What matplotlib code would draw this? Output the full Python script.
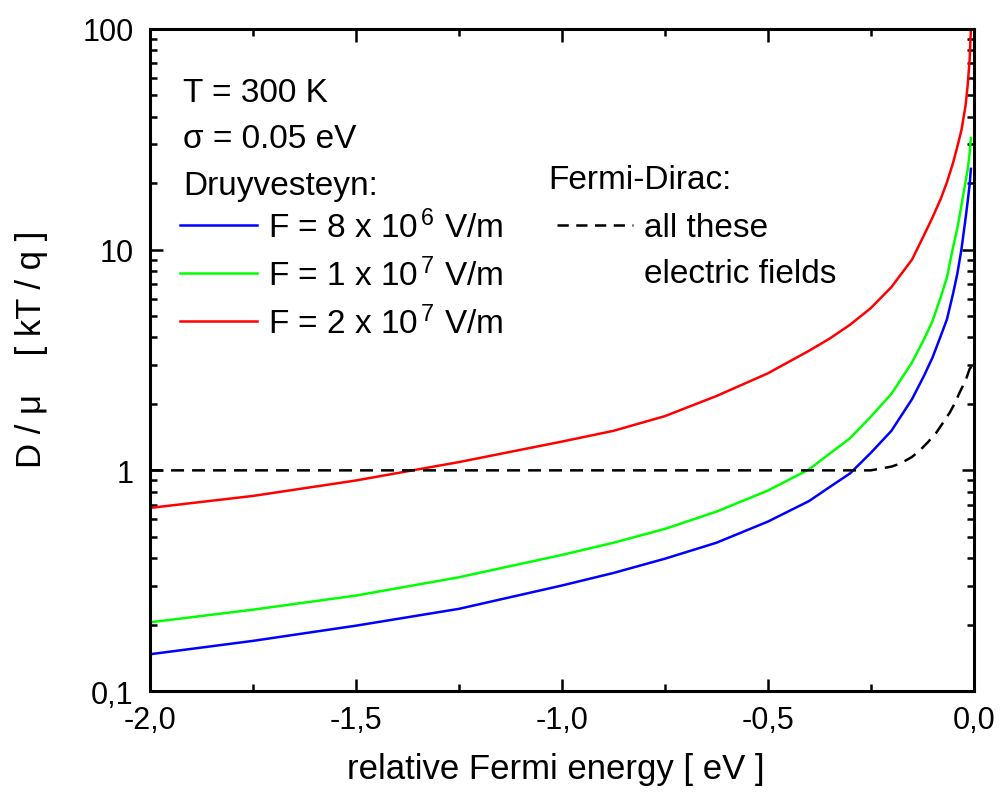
import matplotlib
matplotlib.use("Agg")
import matplotlib.pyplot as plt
from matplotlib.ticker import MultipleLocator, LogLocator, FuncFormatter, NullFormatter

plt.rcParams['font.family'] = ['Liberation Sans', 'DejaVu Sans']
plt.rcParams['mathtext.fontset'] = 'custom'
plt.rcParams['mathtext.rm'] = 'Liberation Sans'
plt.rcParams['mathtext.it'] = 'Liberation Sans'
plt.rcParams['mathtext.bf'] = 'Liberation Sans'
plt.rcParams['mathtext.default'] = 'regular'
plt.rcParams['xtick.labelsize'] = 22
plt.rcParams['ytick.labelsize'] = 22

# relative Fermi energy [eV]
energy = [-2.0, -1.75, -1.5, -1.25, -1.0, -0.875, -0.75, -0.625, -0.5, -0.4,
          -0.35, -0.3, -0.25, -0.2, -0.15, -0.12, -0.1, -0.08, -0.065, -0.05,
          -0.04, -0.03, -0.02, -0.015, -0.01, -0.007]

# D/mu [kT/q], Druyvesteyn, three fields
d_8e6 = [0.147, 0.169, 0.198, 0.236, 0.301, 0.343, 0.398, 0.47, 0.586, 0.726,
         0.84, 0.97, 1.2, 1.51, 2.1, 2.7, 3.25, 4.07, 4.84, 6.35,
         7.76, 10.0, 13.8, 16.4, 19.7, 23.2]
d_1e7 = [0.205, 0.234, 0.271, 0.328, 0.414, 0.47, 0.543, 0.65, 0.81, 1.01,
         1.19, 1.40, 1.75, 2.22, 3.08, 3.95, 4.76, 6.1, 7.5, 10.3,
         12.45, 15.8, 20.3, 22.9, 27.2, 32.0]
d_2e7 = [0.676, 0.766, 0.90, 1.09, 1.35, 1.51, 1.76, 2.17, 2.75, 3.48,
         3.95, 4.57, 5.43, 6.76, 9.0, 11.7, 14.0, 17.0, 20.2, 24.8,
         29.2, 34.7, 44.7, 55.0, 72.4, 100.0]

# Fermi-Dirac (same for all fields)
fd_energy = [-2.0, -0.25, -0.2, -0.18, -0.15, -0.131, -0.11, -0.09, -0.075,
             -0.058, -0.045, -0.034, -0.02, -0.01, 0.0]
fd = [1.0, 1.0, 1.04, 1.07, 1.15, 1.23, 1.35, 1.49, 1.64,
      1.83, 2.03, 2.26, 2.55, 2.88, 3.05]

series = [
    (d_8e6, "#0000ff", r"F = 8 x 10$^{\,6}$ V/m"),
    (d_1e7, "#00ff00", r"F = 1 x 10$^{\,7}$ V/m"),
    (d_2e7, "#ff0000", r"F = 2 x 10$^{\,7}$ V/m"),
]

fig = plt.figure(figsize=(10.07, 8.03), dpi=100)
ax = fig.add_axes([0.149, 0.138, 0.818, 0.825])

lw = 1.8
for vals, col, lab in series:
    ax.plot(energy, vals, color=col, lw=lw)
ax.plot(fd_energy, fd, color="black", lw=lw, dashes=(5.2, 3.2))

ax.set_yscale("log")
ax.set_xlim(-2.0, 0.0)
ax.set_ylim(0.1, 100)

# axes style
for sp in ax.spines.values():
    sp.set_linewidth(2.2)
ax.xaxis.set_major_locator(MultipleLocator(0.5))
ax.xaxis.set_minor_locator(MultipleLocator(0.25))
ax.yaxis.set_major_locator(LogLocator(base=10, numticks=10))
ax.yaxis.set_minor_locator(LogLocator(base=10, subs=range(2, 10), numticks=10))
ax.yaxis.set_minor_formatter(NullFormatter())
ax.xaxis.set_major_formatter(FuncFormatter(lambda v, p: f"{v:.1f}".replace(".", ",").replace("-0,0", "0,0")))
ylab = {0.1: "0,1", 1: "1", 10: "10", 100: "100"}
ax.yaxis.set_major_formatter(FuncFormatter(lambda v, p: ylab.get(round(v, 3), "")))
ax.tick_params(which="both", direction="in", top=True, right=True, width=1.8)
ax.tick_params(which="major", length=9)
ax.tick_params(axis="x", which="major", pad=10)
ax.tick_params(axis="y", which="major", pad=12)
ax.tick_params(which="minor", length=5)

ax.set_xlabel("relative Fermi energy [ eV ]", fontsize=25)
ax.set_ylabel("D / \u03bc    [ kT / q ]", fontsize=25)
ax.xaxis.set_label_coords(0.493, -0.092)
ax.yaxis.set_label_coords(-0.124, 0.518)

# in-plot legend / annotations
fs = 24
tx = 0.040
ax.text(tx, 0.891, "T = 300 K", transform=ax.transAxes, fontsize=fs, va="baseline")
ax.text(tx, 0.822, "\u03c3 = 0.05 eV", transform=ax.transAxes, fontsize=fs, va="baseline")
ax.text(tx, 0.751, "Druyvesteyn:", transform=ax.transAxes, fontsize=fs, va="baseline")
rows_y = [0.704, 0.631, 0.559]
text_y = [0.686, 0.613, 0.541]
for (vals, col, lab), ly, ty in zip(series, rows_y, text_y):
    ax.plot([0.0364, 0.1299], [ly, ly], color=col, lw=lw, transform=ax.transAxes)
    ax.text(0.1432, ty, lab, transform=ax.transAxes, fontsize=fs, va="baseline")

ax.text(0.483, 0.760, "Fermi-Dirac:", transform=ax.transAxes, fontsize=fs, va="baseline")
ax.plot([0.494, 0.586], [0.704, 0.704], color="black", lw=lw, dashes=(4.5, 3.0),
        transform=ax.transAxes)
ax.text(0.5995, 0.687, "all these", transform=ax.transAxes, fontsize=fs, va="baseline")
ax.text(0.5995, 0.618, "electric fields", transform=ax.transAxes, fontsize=fs, va="baseline")

fig.savefig("out.png", dpi=100)
